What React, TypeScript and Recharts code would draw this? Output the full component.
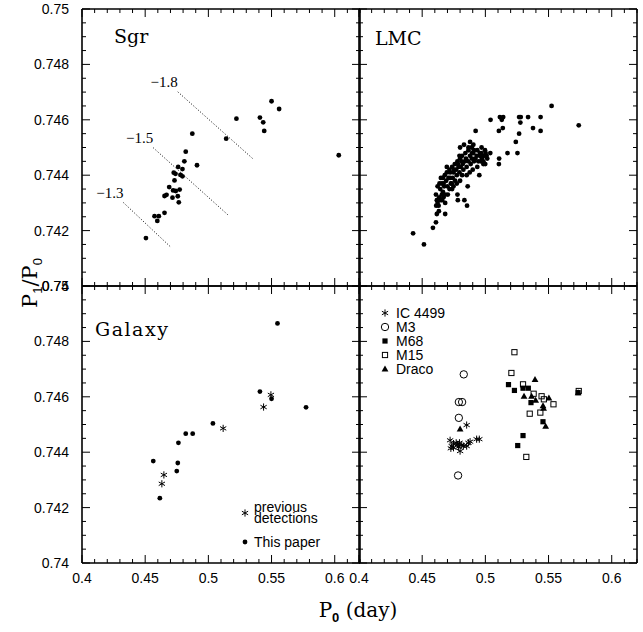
import React from 'react';
import { ScatterChart, Scatter, XAxis, YAxis, ReferenceLine } from 'recharts';

const W = 643;
const H = 632;
const PW = 278;
const PH = 277;

const sans = '"Liberation Sans", Arial, Helvetica, sans-serif';
const serif = '"DejaVu Serif", "Liberation Serif", serif';

// axis ticks: minor every 0.01 / 0.0005, majors picked out below
const p0Ticks = [0.4, 0.41, 0.42, 0.43, 0.44, 0.45, 0.46, 0.47, 0.48, 0.49, 0.5, 0.51, 0.52, 0.53, 0.54, 0.55, 0.56, 0.57, 0.58, 0.59, 0.6, 0.61, 0.62];
const ratioTicks = [0.74, 0.7405, 0.741, 0.7415, 0.742, 0.7425, 0.743, 0.7435, 0.744, 0.7445, 0.745, 0.7455, 0.746, 0.7465, 0.747, 0.7475, 0.748, 0.7485, 0.749, 0.7495, 0.75];

// Sgr
const sgrP0 = [0.4506, 0.4574, 0.4608, 0.4596, 0.4653, 0.4653, 0.4669, 0.469, 0.4721, 0.4742, 0.4716, 0.4758, 0.4773, 0.4766, 0.4732, 0.4726, 0.474, 0.4761, 0.4795, 0.4779, 0.4795, 0.481, 0.4821, 0.491, 0.4873, 0.5141, 0.5222, 0.5408, 0.5434, 0.5442, 0.55, 0.556, 0.6032];
const sgrRatio = [0.74173, 0.74252, 0.74252, 0.74235, 0.74264, 0.74325, 0.74329, 0.74357, 0.74345, 0.74343, 0.74319, 0.74324, 0.74348, 0.74302, 0.74381, 0.74409, 0.74405, 0.7443, 0.74422, 0.74401, 0.74396, 0.7445, 0.74485, 0.74436, 0.7455, 0.74532, 0.74604, 0.74608, 0.74591, 0.7456, 0.74667, 0.74639, 0.74472];

// metallicity lines in the Sgr panel
const isoLabels = ['\u22121.8', '\u22121.5', '\u22121.3'];
const isoStartP0 = [0.4758, 0.4564, 0.4328];
const isoStartRatio = [0.74701, 0.74499, 0.74301];
const isoEndP0 = [0.5351, 0.5159, 0.4708];
const isoEndRatio = [0.7446, 0.74255, 0.74138];

// LMC
const lmcP0 = [
  0.4428, 0.4514, 0.4585, 0.4609, 0.4682, 0.4855, 0.4834, 0.4782, 0.4779, 0.486,
  0.4952, 0.4876, 0.4923, 0.4831, 0.4879, 0.4892, 0.497, 0.5039, 0.5109, 0.5107,
  0.5175, 0.5254, 0.5241, 0.5267, 0.5107, 0.5138, 0.5041, 0.5115, 0.5141, 0.513,
  0.5267, 0.528, 0.5338, 0.5277, 0.5377, 0.5437, 0.5437, 0.5524, 0.5739, 0.5002,
  0.4984,
  0.4609, 0.4616, 0.4622, 0.463, 0.4611, 0.4635, 0.4648, 0.4656, 0.4664, 0.4643,
  0.4669, 0.4682, 0.4674, 0.4656, 0.4669, 0.469, 0.4708, 0.47, 0.4716, 0.4727,
  0.4734, 0.4721, 0.4742, 0.4748, 0.4761, 0.4774, 0.4769, 0.4787, 0.4795, 0.4805,
  0.48, 0.4813, 0.4821, 0.4826, 0.4839, 0.4847, 0.4852, 0.4866, 0.4879, 0.4884,
  0.4894, 0.4905, 0.491, 0.4921, 0.4931, 0.4936, 0.4944, 0.4957, 0.4963, 0.4973,
  0.4984, 0.4989, 0.4999, 0.501, 0.5015, 0.4997, 0.4968, 0.4936, 0.491, 0.4894,
  0.4866, 0.4842, 0.4816, 0.4795, 0.4779, 0.4758, 0.4737, 0.4716, 0.4695, 0.4679,
  0.4664, 0.4648, 0.4637, 0.4622, 0.4695, 0.4721, 0.4753, 0.4784, 0.4816, 0.4774,
  0.4737, 0.4703, 0.4658, 0.4632, 0.4616, 0.4682, 0.4748, 0.48, 0.4852, 0.49,
  0.48, 0.4866, 0.4905, 0.4957,
];
const lmcRatio = [
  0.7419, 0.7415, 0.7421, 0.7423, 0.7426, 0.7429, 0.7431, 0.7431, 0.7433, 0.7436,
  0.744, 0.7441, 0.7456, 0.7451, 0.7452, 0.745, 0.745, 0.7448, 0.7446, 0.7444,
  0.7448, 0.7448, 0.7452, 0.7455, 0.7456, 0.7457, 0.746, 0.7461, 0.7461, 0.746,
  0.7461, 0.7461, 0.7461, 0.7459, 0.7457, 0.7461, 0.7456, 0.7465, 0.7458, 0.7448,
  0.7444,
  0.7433, 0.7431, 0.743, 0.7429, 0.7429, 0.7432, 0.7431, 0.7433, 0.7434, 0.7435,
  0.7432, 0.7433, 0.7436, 0.7437, 0.7437, 0.7438, 0.7439, 0.7436, 0.7435, 0.7437,
  0.7437, 0.7439, 0.7439, 0.7441, 0.7438, 0.744, 0.7442, 0.7443, 0.7441, 0.7443,
  0.7446, 0.7445, 0.7444, 0.7442, 0.7445, 0.7446, 0.7443, 0.7445, 0.7447, 0.7444,
  0.7446, 0.7448, 0.7445, 0.7446, 0.7447, 0.7443, 0.7445, 0.7447, 0.7445, 0.7446,
  0.7445, 0.7447, 0.7444, 0.7447, 0.7446, 0.7449, 0.7448, 0.7449, 0.7449, 0.7448,
  0.7449, 0.7448, 0.7447, 0.7447, 0.7445, 0.7444, 0.7443, 0.7442, 0.7441, 0.744,
  0.7439, 0.7439, 0.7437, 0.7436, 0.7443, 0.7441, 0.7442, 0.7444, 0.744, 0.7437,
  0.7435, 0.7433, 0.7431, 0.7427, 0.7426, 0.743, 0.7436, 0.7438, 0.744, 0.7442,
  0.745, 0.745, 0.7451, 0.7448,
];

// Galaxy: new measurements and earlier detections
const galP0 = [0.5547, 0.5408, 0.55, 0.5773, 0.5036, 0.4821, 0.4876, 0.4763, 0.4564, 0.4758, 0.475, 0.4616];
const galRatio = [0.74865, 0.74619, 0.74593, 0.74562, 0.74504, 0.74467, 0.74467, 0.74434, 0.74368, 0.74361, 0.74332, 0.74234];
const prevP0 = [0.5495, 0.5437, 0.5117, 0.4648, 0.4632];
const prevRatio = [0.74607, 0.74563, 0.74486, 0.74318, 0.74286];

// globular clusters and Draco
const icP0 = [0.4721, 0.4734, 0.4727, 0.4748, 0.4769, 0.4779, 0.4795, 0.48, 0.4813, 0.4826, 0.4852, 0.4866, 0.4879, 0.4931, 0.4952, 0.4852, 0.4748, 0.4787];
const icRatio = [0.74443, 0.74422, 0.74414, 0.74431, 0.74434, 0.74428, 0.74434, 0.74404, 0.74426, 0.74422, 0.74422, 0.74434, 0.74438, 0.74447, 0.74447, 0.74498, 0.74416, 0.74419];
const m3P0 = [0.4829, 0.479, 0.4816, 0.479, 0.4784];
const m3Ratio = [0.74681, 0.74581, 0.74581, 0.74524, 0.74316];
const m68P0 = [0.5183, 0.523, 0.5298, 0.534, 0.5361, 0.5456, 0.5298, 0.5256, 0.5734];
const m68Ratio = [0.74644, 0.74623, 0.74631, 0.74631, 0.74579, 0.7451, 0.7446, 0.74424, 0.74615];
const m15P0 = [0.523, 0.5206, 0.5298, 0.5382, 0.5445, 0.5463, 0.5539, 0.5351, 0.5435, 0.5324, 0.5739];
const m15Ratio = [0.74761, 0.74686, 0.74645, 0.74611, 0.74602, 0.74591, 0.74573, 0.74539, 0.74543, 0.74383, 0.74621];
const dracoP0 = [0.5393, 0.5306, 0.5366, 0.5398, 0.5456, 0.5461, 0.5503, 0.5477, 0.48, 0.5734];
const dracoRatio = [0.74662, 0.74602, 0.74602, 0.74587, 0.74567, 0.74558, 0.74595, 0.74493, 0.74483, 0.74614];

const pts = (xs: number[], ys: number[]) => xs.map((x, i) => ({ x, y: ys[i] }));

const isMajor = (v: number, step: number) => {
  const q = v / step;
  return Math.abs(q - Math.round(q)) < 1e-6;
};

// inward tick marks on every side, labels only where asked for
const makeTick = (side: 'bottom' | 'top' | 'left' | 'right', showLabel: boolean) => (props: any) => {
  const { x, y, payload } = props;
  const v = payload.value as number;
  const horiz = side === 'bottom' || side === 'top';
  const major = horiz ? isMajor(v, 0.05) : isMajor(v, 0.002);
  const len = major ? 8 : 4;
  let mark;
  if (side === 'bottom') mark = <line x1={x} y1={y} x2={x} y2={y - len} />;
  else if (side === 'top') mark = <line x1={x} y1={y} x2={x} y2={y + len} />;
  else if (side === 'left') mark = <line x1={x} y1={y} x2={x + len} y2={y} />;
  else mark = <line x1={x} y1={y} x2={x - len} y2={y} />;
  let label = null;
  if (showLabel && major) {
    if (side === 'bottom' && v < 0.615) {
      label = (
        <text x={x} y={y + 20} textAnchor="middle" fontFamily={sans} fontSize={14} fill="#000" stroke="none">
          {String(+v.toFixed(2))}
        </text>
      );
    } else if (side === 'left') {
      label = (
        <text x={x - 13} y={y + 5} textAnchor="end" fontFamily={sans} fontSize={14} fill="#000" stroke="none">
          {String(+v.toFixed(3))}
        </text>
      );
    }
  }
  return (
    <g stroke="#000" strokeWidth={1}>
      {mark}
      {label}
    </g>
  );
};

const axisLine = { stroke: '#000', strokeWidth: 1.6 };

const Dot = (p: any) => <circle cx={p.cx} cy={p.cy} r={2.4} fill="#000" />;
const Star = (p: any) => {
  const r = 3.6;
  return (
    <g stroke="#000" strokeWidth={1}>
      <line x1={p.cx} y1={p.cy - r} x2={p.cx} y2={p.cy + r} />
      <line x1={p.cx - r * 0.87} y1={p.cy - r * 0.5} x2={p.cx + r * 0.87} y2={p.cy + r * 0.5} />
      <line x1={p.cx - r * 0.87} y1={p.cy + r * 0.5} x2={p.cx + r * 0.87} y2={p.cy - r * 0.5} />
    </g>
  );
};
const Ring = (p: any) => <circle cx={p.cx} cy={p.cy} r={3.7} fill="none" stroke="#000" strokeWidth={1} />;
const Box = (p: any) => <rect x={p.cx - 2.6} y={p.cy - 2.6} width={5.2} height={5.2} fill="#000" />;
const OpenBox = (p: any) => (
  <rect x={p.cx - 2.6} y={p.cy - 2.6} width={5.2} height={5.2} fill="none" stroke="#000" strokeWidth={1} />
);
const Tri = (p: any) => (
  <polygon points={`${p.cx},${p.cy - 3.6} ${p.cx - 3.4},${p.cy + 2.4} ${p.cx + 3.4},${p.cy + 2.4}`} fill="#000" />
);
const IsoLabel = (p: any) => (
  <text x={p.cx} y={p.cy - 5} textAnchor="end" fontFamily='"Liberation Serif", serif' fontSize={15} fill="#000">
    {p.payload.label}
  </text>
);

// each panel is a full-page chart whose plot box is placed by the margins;
// axes get a 1px size because zero-sized axes are not drawn
function Panel({ x0, y0, showX, showY, children }: any) {
  return (
    <div style={{ position: 'absolute', left: 0, top: 0 }}>
      <ScatterChart
        width={W}
        height={H}
        margin={{ top: y0 - 1, left: x0 - 1, right: W - x0 - PW - 1, bottom: H - y0 - PH - 1 }}
      >
        <XAxis xAxisId="b" type="number" dataKey="x" orientation="bottom" domain={[0.4, 0.62]} ticks={p0Ticks}
          interval={0} height={1} tickSize={0} tickMargin={0} tickLine={false} axisLine={axisLine}
          tick={makeTick('bottom', showX)} allowDataOverflow />
        <XAxis xAxisId="t" type="number" dataKey="x" orientation="top" domain={[0.4, 0.62]} ticks={p0Ticks}
          interval={0} height={1} tickSize={0} tickMargin={0} tickLine={false} axisLine={axisLine}
          tick={makeTick('top', false)} allowDataOverflow />
        <YAxis yAxisId="l" type="number" dataKey="y" orientation="left" domain={[0.74, 0.75]} ticks={ratioTicks}
          interval={0} width={1} tickSize={0} tickMargin={0} tickLine={false} axisLine={axisLine}
          tick={makeTick('left', showY)} allowDataOverflow />
        <YAxis yAxisId="r" type="number" dataKey="y" orientation="right" domain={[0.74, 0.75]} ticks={ratioTicks}
          interval={0} width={1} tickSize={0} tickMargin={0} tickLine={false} axisLine={axisLine}
          tick={makeTick('right', false)} allowDataOverflow />
        {children}
      </ScatterChart>
    </div>
  );
}

const ax = { xAxisId: 'b', yAxisId: 'l' };

export default function App() {
  const isoStarts = isoLabels.map((label, i) => ({ x: isoStartP0[i], y: isoStartRatio[i], label }));
  return (
    <div style={{ position: 'absolute', left: 0, top: 0, width: W, height: H, background: '#fff' }}>
      <Panel x0={82} y0={9} showX={false} showY={true}>
        {isoLabels.map((l, i) => (
          <ReferenceLine key={l} {...ax} segment={[{ x: isoStartP0[i], y: isoStartRatio[i] }, { x: isoEndP0[i], y: isoEndRatio[i] }]}
            stroke="#000" strokeWidth={1} strokeDasharray="1 2" />
        ))}
        <Scatter {...ax} data={isoStarts} shape={IsoLabel} isAnimationActive={false} />
        <Scatter {...ax} data={pts(sgrP0, sgrRatio)} shape={Dot} isAnimationActive={false} />
      </Panel>
      <Panel x0={359} y0={9} showX={false} showY={false}>
        <Scatter {...ax} data={pts(lmcP0, lmcRatio)} shape={Dot} isAnimationActive={false} />
      </Panel>
      <Panel x0={82} y0={286} showX={true} showY={true}>
        <Scatter {...ax} data={pts(galP0, galRatio)} shape={Dot} isAnimationActive={false} />
        <Scatter {...ax} data={pts(prevP0, prevRatio)} shape={Star} isAnimationActive={false} />
      </Panel>
      <Panel x0={359} y0={286} showX={true} showY={false}>
        <Scatter {...ax} data={pts(m15P0, m15Ratio)} shape={OpenBox} isAnimationActive={false} />
        <Scatter {...ax} data={pts(m68P0, m68Ratio)} shape={Box} isAnimationActive={false} />
        <Scatter {...ax} data={pts(dracoP0, dracoRatio)} shape={Tri} isAnimationActive={false} />
        <Scatter {...ax} data={pts(m3P0, m3Ratio)} shape={Ring} isAnimationActive={false} />
        <Scatter {...ax} data={pts(icP0, icRatio)} shape={Star} isAnimationActive={false} />
      </Panel>

      {/* titles, legends and axis names */}
      <svg width={W} height={H} style={{ position: 'absolute', left: 0, top: 0, pointerEvents: 'none' }}>
        <g fontFamily={serif} fontSize={19} fill="#000">
          <text x={114} y={43}>Sgr</text>
          <text x={375} y={45}>LMC</text>
          <text x={95} y={336} letterSpacing={1.5}>Galaxy</text>
        </g>

        <g fontFamily={sans} fontSize={14} fill="#000">
          <Star cx={245} cy={513} />
          <text x={254} y={512}>previous</text>
          <text x={254} y={523}>detections</text>
          <Dot cx={245} cy={542} />
          <text x={254} y={547}>This paper</text>

          <Star cx={385} cy={313} />
          <text x={396} y={318}>IC 4499</text>
          <Ring cx={385} cy={327} />
          <text x={396} y={332}>M3</text>
          <Box cx={385} cy={341} />
          <text x={396} y={346}>M68</text>
          <OpenBox cx={385} cy={355} />
          <text x={396} y={360}>M15</text>
          <Tri cx={385} cy={369} />
          <text x={396} y={374}>Draco</text>
        </g>

        <text x={37} y={283} transform="rotate(-90 37 283)" textAnchor="middle" fontFamily={serif} fontSize={21} fill="#000">
          P<tspan fontFamily={sans} fontSize={13} dy={5}>1</tspan>
          <tspan dy={-5}>/P</tspan>
          <tspan fontFamily={sans} fontSize={13} dy={5}>0</tspan>
        </text>
        <text x={358} y={617} textAnchor="middle" fontFamily={serif} fontSize={20} fill="#000">
          P<tspan fontFamily={sans} fontSize={13} fontWeight="bold" dy={5}>0</tspan>
          <tspan dy={-5}> (day)</tspan>
        </text>
      </svg>
    </div>
  );
}
